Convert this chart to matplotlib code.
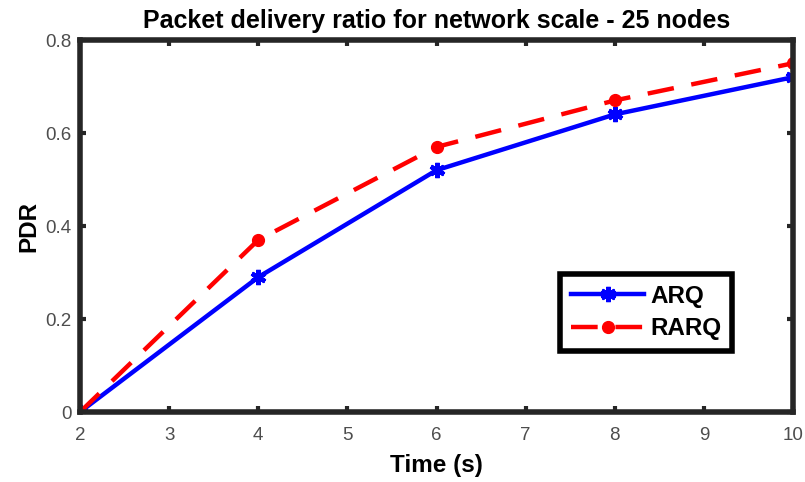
import matplotlib
matplotlib.use('Agg')
import matplotlib.pyplot as plt

# Время моделирования, с
time_s = [2, 4, 6, 8, 10]
# Доля доставленных пакетов
pdr_arq = [0.0, 0.29, 0.52, 0.64, 0.72]
pdr_rarq = [0.0, 0.37, 0.57, 0.67, 0.75]

x_ticks = [2, 3, 4, 5, 6, 7, 8, 9, 10]
y_ticks = [0, 0.2, 0.4, 0.6, 0.8]
y_tick_labels = ['0', '0.2', '0.4', '0.6', '0.8']

plt.rcParams['font.family'] = ['Liberation Sans', 'DejaVu Sans']

fig = plt.figure(figsize=(8.05, 4.82), dpi=100)
ax = fig.add_axes([0.0994, 0.1452, 0.8857, 0.7718])

ax.plot(time_s, pdr_arq, color='#0000ff', linestyle='-', linewidth=3.2,
        marker=(6, 2, 0), markersize=11, markeredgewidth=3.2, label='ARQ')
ax.plot(time_s, pdr_rarq, color='#ff0000', linestyle=(0, (6, 4)), linewidth=3.2,
        marker='o', markersize=8.5, label='RARQ')

ax.set_xlim(2, 10)
ax.set_ylim(0, 0.8)
ax.set_xticks(x_ticks)
ax.set_yticks(y_ticks)
ax.set_xticklabels([str(t) for t in x_ticks])
ax.set_yticklabels(y_tick_labels)

for side in ax.spines.values():
    side.set_linewidth(4)
    side.set_color('#262626')
ax.tick_params(direction='in', length=4.5, width=3, top=True, right=True,
               labelsize=13.5, labelcolor='#4d4d4d', color='#262626')
ax.tick_params(axis='x', pad=11)
ax.tick_params(axis='y', pad=6)

ax.set_title('Packet delivery ratio for network scale - 25 nodes',
             fontsize=18, fontweight='bold', pad=9)
ax.set_xlabel('Time (s)', fontsize=17.5, fontweight='bold', labelpad=7)
ax.set_ylabel('PDR', fontsize=17.5, fontweight='bold', labelpad=4)

leg = ax.legend(loc='center', bbox_to_anchor=(0.7945, 0.2675),
                prop={'weight': 'bold', 'size': 17.5},
                fancybox=False, framealpha=1, handlelength=3.0, borderpad=0.45,
                labelspacing=0.4, handletextpad=0.25, borderaxespad=0)
leg.get_frame().set_edgecolor('black')
leg.get_frame().set_linewidth(4)

fig.savefig('out.png', dpi=100)
